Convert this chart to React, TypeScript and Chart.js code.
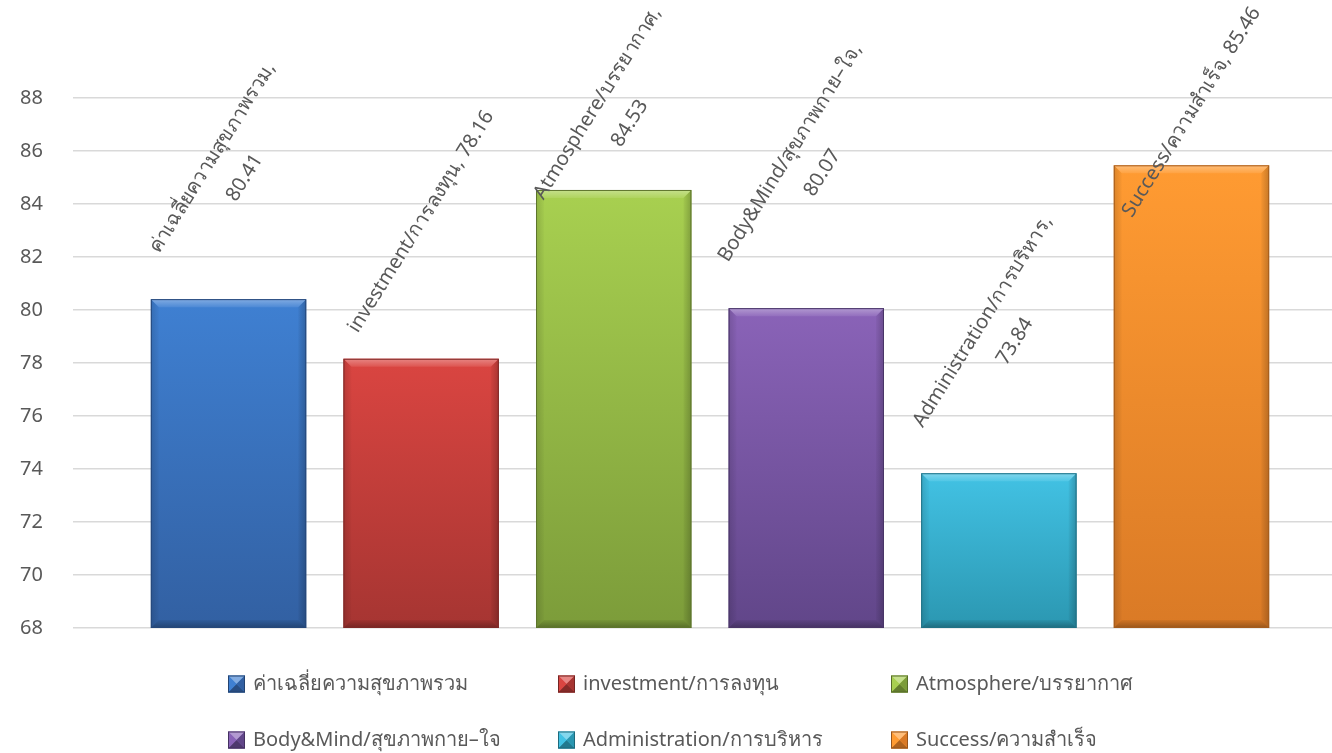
import { useEffect, useRef } from "react";
import { Chart, registerables } from "chart.js";

Chart.register(...registerables);

const categories = [
  "ค่าเฉลี่ยความสุขภาพรวม",
  "investment/การลงทุน",
  "Atmosphere/บรรยากาศ",
  "Body&Mind/สุขภาพกาย–ใจ",
  "Administration/การบริหาร",
  "Success/ความสำเร็จ",
];
const values = [80.41, 78.16, 84.53, 80.07, 73.84, 85.46];
const wrapLabel = [true, false, true, true, true, false];
const topColors = ["#3f80d2", "#da4541", "#a8d050", "#8a63b8", "#42c2e4", "#ff9b32"];
const bottomColors = ["#3260a2", "#a63532", "#7c9c3a", "#614689", "#2b97b1", "#da7a26"];
const yMin = 68;
const yMax = 88;
const yStep = 2;

const FONT_FAMILY = '"Noto Sans", "DejaVu Sans", sans-serif';
const TEXT_COLOR = "#595959";

function hexToRgb(hex: string) {
  const h = hex.replace("#", "");
  return [parseInt(h.slice(0, 2), 16), parseInt(h.slice(2, 4), 16), parseInt(h.slice(4, 6), 16)];
}
function mix(hex: string, target: number, amt: number) {
  const [r, g, b] = hexToRgb(hex);
  const f = (c: number) => Math.round(c + (target - c) * amt);
  return `rgb(${f(r)},${f(g)},${f(b)})`;
}

const bevelPlugin = {
  id: "bevel",
  afterDatasetsDraw(chart: any) {
    const ctx = chart.ctx;
    const area = chart.chartArea;
    chart.data.datasets.forEach((_ds: any, i: number) => {
      const meta = chart.getDatasetMeta(i);
      meta.data.forEach((el: any) => {
        const { x, y, base, width } = el.getProps(["x", "y", "base", "width"], true);
        const l = x - width / 2;
        const r = x + width / 2;
        const t = y;
        const b = Math.min(base, area.bottom);
        const bv = 8;
        ctx.save();
        const gTop = ctx.createLinearGradient(0, t, 0, t + bv);
        gTop.addColorStop(0, mix(topColors[i], 255, 0.35));
        gTop.addColorStop(1, mix(topColors[i], 255, 0.08));
        ctx.beginPath();
        ctx.moveTo(l, t);
        ctx.lineTo(r, t);
        ctx.lineTo(r - bv, t + bv);
        ctx.lineTo(l + bv, t + bv);
        ctx.closePath();
        ctx.fillStyle = gTop;
        ctx.fill();
        const gL = ctx.createLinearGradient(l, 0, l + bv, 0);
        gL.addColorStop(0, "rgba(0,0,0,0.14)");
        gL.addColorStop(1, "rgba(0,0,0,0.02)");
        ctx.beginPath();
        ctx.moveTo(l, t);
        ctx.lineTo(l + bv, t + bv);
        ctx.lineTo(l + bv, b - bv);
        ctx.lineTo(l, b);
        ctx.closePath();
        ctx.fillStyle = gL;
        ctx.fill();
        const gR = ctx.createLinearGradient(r, 0, r - bv, 0);
        gR.addColorStop(0, "rgba(0,0,0,0.22)");
        gR.addColorStop(1, "rgba(0,0,0,0.03)");
        ctx.beginPath();
        ctx.moveTo(r, t);
        ctx.lineTo(r - bv, t + bv);
        ctx.lineTo(r - bv, b - bv);
        ctx.lineTo(r, b);
        ctx.closePath();
        ctx.fillStyle = gR;
        ctx.fill();
        const gB = ctx.createLinearGradient(0, b, 0, b - bv);
        gB.addColorStop(0, "rgba(0,0,0,0.30)");
        gB.addColorStop(1, "rgba(0,0,0,0.05)");
        ctx.beginPath();
        ctx.moveTo(l, b);
        ctx.lineTo(r, b);
        ctx.lineTo(r - bv, b - bv);
        ctx.lineTo(l + bv, b - bv);
        ctx.closePath();
        ctx.fillStyle = gB;
        ctx.fill();
        ctx.strokeStyle = mix(bottomColors[i], 0, 0.25);
        ctx.lineWidth = 1;
        ctx.strokeRect(l + 0.5, t + 0.5, width - 1, b - t - 1);
        ctx.restore();
      });
    });
  },
};

const labelPlugin = {
  id: "rotLabels",
  afterDatasetsDraw(chart: any) {
    const ctx = chart.ctx;
    const ang = (-58 * Math.PI) / 180;
    const lh = 38;
    ctx.save();
    ctx.font = `20px ${FONT_FAMILY}`;
    ctx.fillStyle = TEXT_COLOR;
    ctx.textAlign = "center";
    ctx.textBaseline = "middle";
    chart.data.datasets.forEach((_ds: any, i: number) => {
      const meta = chart.getDatasetMeta(i);
      const el = meta.data[0];
      if (!el) return;
      const { x, y } = el.getProps(["x", "y"], true);
      const v = values[i].toFixed(2);
      const lines = wrapLabel[i] ? [categories[i] + ",", v] : [categories[i] + ", " + v];
      const w = Math.max(...lines.map((s) => ctx.measureText(s).width));
      const h = 30 + (lines.length - 1) * lh;
      const half = (w / 2) * Math.sin(-ang) + (h / 2) * Math.cos(-ang);
      let cy = y - 20 - half;
      if (cy - half < 1) cy = 1 + half;
      ctx.save();
      ctx.translate(x, cy);
      ctx.rotate(ang);
      lines.forEach((s, k) => {
        ctx.fillText(s, 0, (k - (lines.length - 1) / 2) * lh);
      });
      ctx.restore();
    });
    ctx.restore();
  },
};

const legendPlugin = {
  id: "customLegend",
  afterDraw(chart: any) {
    const ctx = chart.ctx;
    const colX = [228, 558, 891];
    const rowY = [684, 740];
    const s = 17;
    ctx.save();
    ctx.font = `20px ${FONT_FAMILY}`;
    ctx.textBaseline = "middle";
    ctx.textAlign = "left";
    chart.data.datasets.forEach((ds: any, i: number) => {
      const l = colX[i % 3];
      const my = rowY[Math.floor(i / 3)];
      const t = my - s / 2;
      const r = l + s;
      const b = t + s;
      const cx = l + s / 2;
      const cy = t + s / 2;
      const tri = (pts: number[][], col: string) => {
        ctx.beginPath();
        ctx.moveTo(pts[0][0], pts[0][1]);
        pts.slice(1).forEach((p) => ctx.lineTo(p[0], p[1]));
        ctx.closePath();
        ctx.fillStyle = col;
        ctx.fill();
      };
      ctx.fillStyle = topColors[i];
      ctx.fillRect(l, t, s, s);
      tri([[l, t], [r, t], [cx, cy]], mix(topColors[i], 255, 0.35));
      tri([[l, b], [r, b], [cx, cy]], mix(bottomColors[i], 0, 0.2));
      tri([[l, t], [l, b], [cx, cy]], topColors[i]);
      tri([[r, t], [r, b], [cx, cy]], bottomColors[i]);
      ctx.strokeStyle = mix(bottomColors[i], 0, 0.3);
      ctx.lineWidth = 1;
      ctx.strokeRect(l + 0.5, t + 0.5, s - 1, s - 1);
      ctx.fillStyle = TEXT_COLOR;
      ctx.fillText(ds.label, l + s + 8, my);
    });
    ctx.restore();
  },
};

export default function App() {
  const ref = useRef<HTMLCanvasElement | null>(null);
  useEffect(() => {
    if (!ref.current) return;
    const chart = new Chart(ref.current, {
      type: "bar",
      data: {
        labels: [""],
        datasets: categories.map((c, i) => ({
          label: c,
          data: [values[i]],
          backgroundColor: (context: any) => {
            const ch = context.chart;
            const area = ch.chartArea;
            if (!area || !ch.scales || !ch.scales.y) return topColors[i];
            const yTop = ch.scales.y.getPixelForValue(values[i]);
            const g = ch.ctx.createLinearGradient(0, yTop, 0, area.bottom);
            g.addColorStop(0, topColors[i]);
            g.addColorStop(1, bottomColors[i]);
            return g;
          },
          borderWidth: 0,
          categoryPercentage: 0.907,
          barPercentage: 0.807,
        })),
      },
      options: {
        animation: false,
        responsive: true,
        maintainAspectRatio: false,
        layout: { padding: { left: 0, right: 0, top: 98, bottom: 125 } },
        plugins: {
          legend: { display: false },
          tooltip: { enabled: false },
          title: { display: false },
        },
        scales: {
          x: { display: false, grid: { display: false } },
          y: {
            min: yMin,
            max: yMax,
            border: { display: false },
            grid: { color: "#d9d9d9", lineWidth: 1.5, drawTicks: false },
            ticks: {
              stepSize: yStep,
              padding: 30,
              color: TEXT_COLOR,
              font: { family: FONT_FAMILY, size: 20 },
            },
            afterFit: (scale: any) => {
              scale.width = 73;
            },
          },
        },
      },
      plugins: [bevelPlugin, labelPlugin, legendPlugin],
    });
    return () => chart.destroy();
  }, []);
  return (
    <div
      style={{
        position: "fixed",
        left: 0,
        top: 0,
        width: 1332,
        height: 753,
        overflow: "hidden",
        background: "#fff",
      }}
    >
      <div style={{ position: "relative", width: 1347, height: 753 }}>
        <canvas ref={ref} />
      </div>
    </div>
  );
}
